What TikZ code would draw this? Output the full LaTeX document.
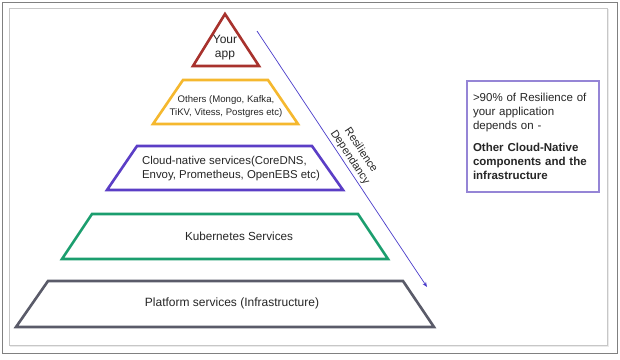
\documentclass[tikz,border=0pt]{standalone}
\usepackage{fontspec}
\setmainfont{Liberation Sans}
\usetikzlibrary{arrows.meta}
\definecolor{appred}{HTML}{A8322D}
\definecolor{othersyellow}{HTML}{F5B82E}
\definecolor{cloudpurple}{HTML}{5B3EC6}
\definecolor{kubegreen}{HTML}{1B9E6E}
\definecolor{platgray}{HTML}{5A5B69}
\definecolor{notelav}{HTML}{9585D6}
\definecolor{arrowblue}{HTML}{4A3CCB}

\begin{document}
\begin{tikzpicture}[x=1pt, y=-1pt,
    layer/.style={line width=2.6pt, line join=miter},
    layertext/.style={align=center, inner sep=0pt, text=black!85},
    note/.style={draw=notelav, line width=2.4pt, minimum width=132pt, minimum height=111pt, text width=120pt, align=left, inner sep=0pt, text=black!85, font=\fontsize{11.5}{14}\selectfont},
    arrow/.style={-{Stealth[length=5pt,width=4pt]}, arrowblue, line width=0.7pt}
]
\useasboundingbox (0,0) rectangle (620,359);

% Frame
\draw[black!50, line width=1pt] (2,2) rectangle (617,353);
\fill[black!8] (10,9) rectangle (609,347);
\draw[black!22, fill=white] (9,8) rectangle (607,345);

% Pyramid
\draw[layer, appred] (225,14) -- (259,66) -- (193,66) -- cycle;
\node[layertext, font=\fontsize{12}{14}\selectfont] (app) at (225,48) {Your\\app};

\draw[layer, othersyellow] (183,80) -- (268,80) -- (298,124) -- (153,124) -- cycle;
\node[layertext, font=\fontsize{9.6}{13}\selectfont] (others) at (226,106.5) {Others (Mongo, Kafka,\\TiKV, Vitess, Postgres etc)};

\draw[layer, cloudpurple] (137,146) -- (312,146) -- (343,190) -- (107,190) -- cycle;
\node[layertext, align=left, font=\fontsize{11.4}{13.5}\selectfont] (cloud) at (231,168.5) {Cloud-native services(CoreDNS,\\Envoy, Prometheus, OpenEBS etc)};

\draw[layer, kubegreen] (92,214) -- (358,214) -- (388,259) -- (62,259) -- cycle;
\node[layertext, font=\fontsize{11.7}{14}\selectfont] (kube) at (239,236) {Kubernetes Services};

\draw[layer, platgray] (48,281) -- (403,281) -- (434,327) -- (16,327) -- cycle;
\node[layertext, font=\fontsize{12}{14}\selectfont] (platform) at (232,303) {Platform services (Infrastructure)};

% Resilience arrow
\coordinate (top) at (257,31);
\coordinate (bottom) at (427,287);
\draw[arrow] (top) -- (bottom) node[pos=0.51, above, sloped, align=center, inner sep=2pt, text=black!85, font=\fontsize{11}{13}\selectfont] (dep) {Resilience\\Dependancy};

% Note box
\node[note] (note) at (533,136.5) {>90\% of Resilience of\\your application\\depends on -\\[8pt]\textbf{Other Cloud-Native}\\\textbf{components and the}\\\textbf{infrastructure}};

\end{tikzpicture}
\end{document}
